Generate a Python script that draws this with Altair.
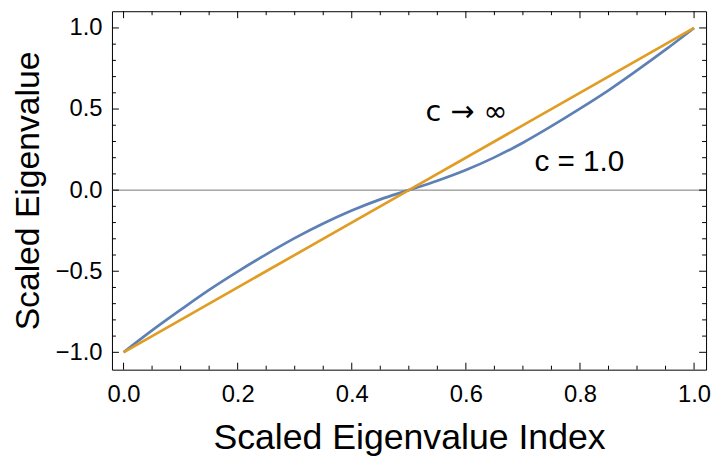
import altair as alt
import pandas as pd

# ---- data ----
x_vals = [0.0, 0.05, 0.1, 0.15, 0.2, 0.25, 0.3, 0.35, 0.4, 0.45, 0.5,
          0.55, 0.6, 0.65, 0.7, 0.75, 0.8, 0.85, 0.9, 0.95, 1.0]
blue_vals = [-1.0, -0.865, -0.738, -0.615, -0.502, -0.396, -0.296, -0.206, -0.126, -0.057, 0.0,
             0.058, 0.124, 0.202, 0.292, 0.394, 0.502, 0.615, 0.738, 0.866, 1.0]
orange_x = [0.0, 0.5, 1.0]
orange_vals = [-1.0, 0.0, 1.0]

x_major = [0.0, 0.2, 0.4, 0.6, 0.8, 1.0]
x_minor = [0.05, 0.1, 0.15, 0.25, 0.3, 0.35, 0.45, 0.5, 0.55, 0.65, 0.7, 0.75, 0.85, 0.9, 0.95]
y_major = [-1.0, -0.5, 0.0, 0.5, 1.0]
y_minor = [-0.9, -0.8, -0.7, -0.6, -0.4, -0.3, -0.2, -0.1, 0.1, 0.2, 0.3, 0.4, 0.6, 0.7, 0.8, 0.9]

labels = ["c \u2192 \u221e", "c = 1.0"]
label_x = [0.601, 0.799]
label_y = [0.426, 0.115]
label_font = ["DejaVu Sans", "Liberation Sans"]
label_size = [29, 30]

W, H = 600, 362
FONT = "Liberation Sans"
BLUE = "#5E81B5"
ORANGE = "#E19C24"

xs = alt.Scale(domain=[-0.0203, 1.021], nice=False, zero=False)
ys = alt.Scale(domain=[-1.107, 1.103], nice=False, zero=False)

blue_df = pd.DataFrame({"x": x_vals, "y": blue_vals})
orange_df = pd.DataFrame({"x": orange_x, "y": orange_vals})

xaxis = alt.Axis(values=x_major, format=".1f", ticks=False, domain=False, grid=False,
                 labelFont=FONT, labelFontSize=24, labelColor="black", labelPadding=13,
                 labelFlush=False,
                 title="Scaled Eigenvalue Index", titleFont=FONT, titleFontSize=36,
                 titleFontWeight="normal", titleColor="black", titlePadding=15)
yaxis = alt.Axis(values=y_major, format=".1f", ticks=False, domain=False, grid=False,
                 labelFont=FONT, labelFontSize=24, labelColor="black", labelPadding=10,
                 labelFlush=False,
                 title="Scaled Eigenvalue", titleFont=FONT, titleFontSize=34,
                 titleFontWeight="normal", titleColor="black", titlePadding=10)

X = lambda: alt.X("x:Q", scale=xs, axis=xaxis)
Y = lambda: alt.Y("y:Q", scale=ys, axis=yaxis)

zero_line = alt.Chart(pd.DataFrame({"y": [0.0]})).mark_rule(color="#777777", strokeWidth=1).encode(
    y=Y(), x=alt.value(0), x2=alt.value(W),
)

blue_line = alt.Chart(blue_df).mark_line(color=BLUE, strokeWidth=2.7, interpolate="monotone").encode(
    x=X(), y=Y(),
)
orange_line = alt.Chart(orange_df).mark_line(color=ORANGE, strokeWidth=2.7).encode(
    x=X(), y=Y(),
)

def xticks(vals, length):
    d = pd.DataFrame({"x": vals})
    bottom = alt.Chart(d).mark_rule(color="black", strokeWidth=1).encode(
        x=X(), y=alt.value(H), y2=alt.value(H - length))
    top = alt.Chart(d).mark_rule(color="black", strokeWidth=1).encode(
        x=X(), y=alt.value(0), y2=alt.value(length))
    return [bottom, top]

def yticks(vals, length):
    d = pd.DataFrame({"y": vals})
    left = alt.Chart(d).mark_rule(color="black", strokeWidth=1).encode(
        y=Y(), x=alt.value(0), x2=alt.value(length))
    right = alt.Chart(d).mark_rule(color="black", strokeWidth=1).encode(
        y=Y(), x=alt.value(W), x2=alt.value(W - length))
    return [left, right]

texts = []
for i in range(len(labels)):
    d = pd.DataFrame({"x": [label_x[i]], "y": [label_y[i]], "t": [labels[i]]})
    texts.append(alt.Chart(d).mark_text(font=label_font[i], fontSize=label_size[i], align="center",
                                        baseline="alphabetic", color="black").encode(
        x=X(), y=Y(), text="t:N"))

layers = [zero_line, blue_line, orange_line] + texts
layers += xticks(x_major, 7) + xticks(x_minor, 4) + yticks(y_major, 7) + yticks(y_minor, 4)

chart = alt.layer(*layers).properties(
    width=W, height=H,
    autosize=alt.AutoSizeParams(type="none"),
    padding={"left": 105, "top": 1, "right": 6, "bottom": 93},
).configure_view(stroke="black", strokeWidth=1)

chart.save("out.html", embed_options={"renderer": "svg", "actions": False})
